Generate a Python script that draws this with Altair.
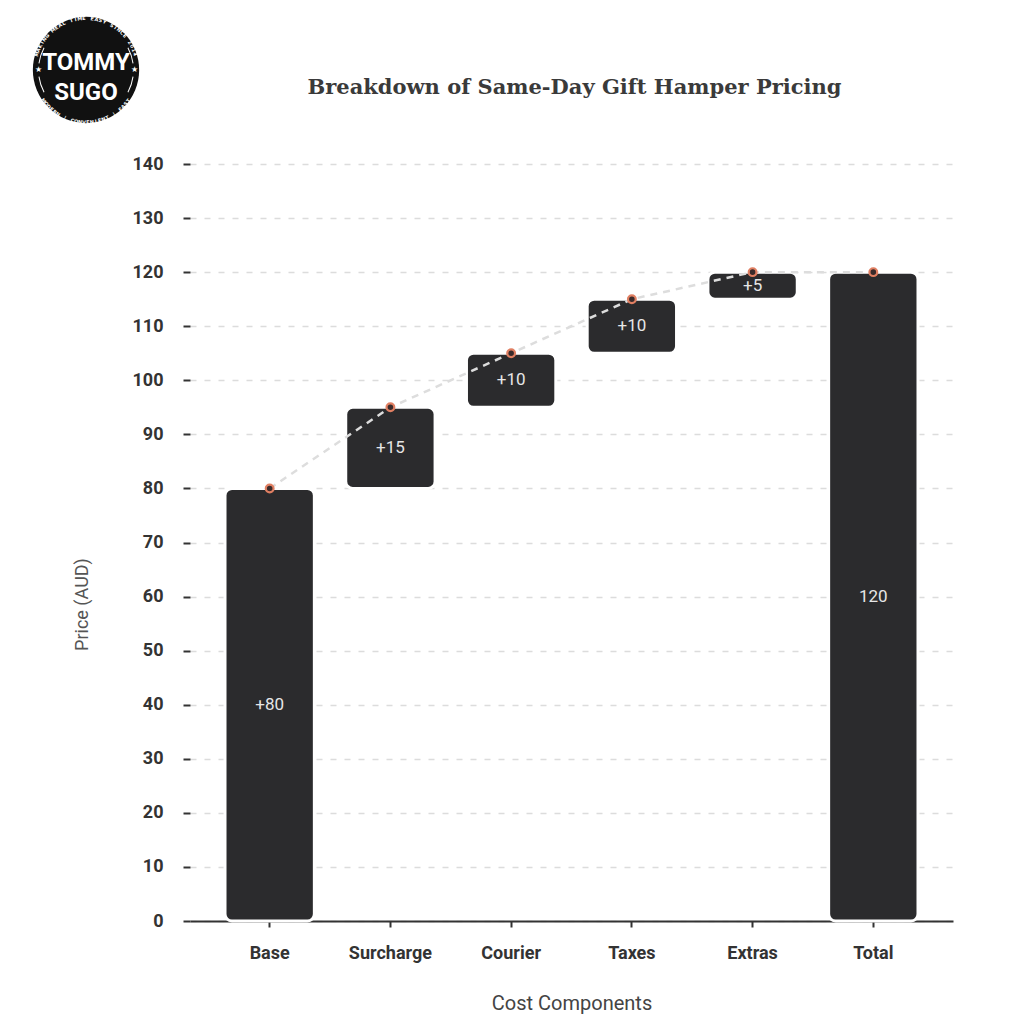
import altair as alt
import pandas as pd
import numpy as np

# ---------------- data ----------------
categories = ["Base", "Surcharge", "Courier", "Taxes", "Extras", "Total"]
amounts = [80, 15, 10, 10, 5, 120]
is_total = [False, False, False, False, False, True]
bar_labels = ["+80", "+15", "+10", "+10", "+5", "120"]
y_ticks = [0, 10, 20, 30, 40, 50, 60, 70, 80, 90, 100, 110, 120, 130, 140]

title_text = "Breakdown of Same-Day Gift Hamper Pricing"
logo_words_list = ["TOMMY", "SUGO"]
logo_top = "MAKING MEAL TIME EASY SINCE 2014"
logo_bottom = "MODERN | CONVENIENT | FAST"

starts, ends = [], []
run = 0
for a, t in zip(amounts, is_total):
    if t:
        starts.append(0)
        ends.append(a)
    else:
        starts.append(run)
        run += a
        ends.append(run)
df = pd.DataFrame({"cat": categories, "start": starts, "end": ends, "label": bar_labels})
df["mid"] = (df["start"] + df["end"]) / 2

W, H = 763, 757
BAR = "#2b2b2d"

xenc = alt.X(
    "cat:N",
    sort=categories,
    scale=alt.Scale(paddingInner=0.26, paddingOuter=0.29),
    axis=alt.Axis(
        title="Cost Components",
        labelAngle=0,
        labelFont="Roboto",
        labelFontWeight="bold",
        labelFontSize=18,
        labelColor="#333333",
        labelPadding=17,
        tickColor="#333333",
        tickSize=6,
        tickWidth=2,
        domainColor="#333333",
        domainWidth=2,
        titleFont="Roboto",
        titleFontWeight="normal",
        titleFontSize=20,
        titleColor="#444444",
        titlePadding=31,
        grid=False,
    ),
)

yscale = alt.Scale(domain=[0, 140], nice=False)
yaxis = alt.Axis(
    title="Price (AUD)",
    values=y_ticks,
    labelFont="Roboto",
    labelFontWeight="bold",
    labelFontSize=18,
    labelColor="#333333",
    labelPadding=20,
    tickColor="#333333",
    tickSize=7,
    tickWidth=2,
    domain=False,
    grid=True,
    gridColor="#dcdcdc",
    gridDash=[6, 8],
    gridWidth=1.5,
    titleFont="Roboto",
    titleFontWeight="normal",
    titleFontSize=18,
    titleColor="#555555",
    titleX=-108,
    titleY=440,
    titleBaseline="middle",
)

bars = alt.Chart(df).mark_bar(
    color=BAR, cornerRadius=7, stroke="white", strokeWidth=3
).encode(
    x=xenc,
    y=alt.Y("start:Q", scale=yscale, axis=yaxis),
    y2="end:Q",
)

line = alt.Chart(df).mark_line(
    color="#dddddd", strokeDash=[7, 6], strokeWidth=2.5
).encode(
    x=alt.X("cat:N", sort=categories),
    y=alt.Y("end:Q", scale=yscale),
)

points = alt.Chart(df).mark_point(
    filled=True, fill="#3a2b2b", stroke="#e07f62", strokeWidth=2.2, size=60, opacity=1
).encode(
    x=alt.X("cat:N", sort=categories),
    y=alt.Y("end:Q", scale=yscale),
)

labels = alt.Chart(df).mark_text(
    font="Roboto", fontSize=17, color="#e6e6e6", baseline="middle"
).encode(
    x=alt.X("cat:N", sort=categories),
    y=alt.Y("mid:Q", scale=yscale),
    text="label:N",
)

# ---------------- title (as text mark so the logo does not push it) ----------------
title_mark = alt.Chart(pd.DataFrame({"t": [title_text]})).mark_text(
    font="DejaVu Serif", fontWeight="bold", fontSize=21, color="#3a3a3a", baseline="middle"
).encode(x=alt.value(W / 2 + 3), y=alt.value(-76), text="t:N")

# ---------------- logo ----------------
LX, LY = -104, -94
logo_disc = alt.Chart(pd.DataFrame({"a": [0]})).mark_circle(
    color="#111111", opacity=1, size=11300
).encode(x=alt.value(LX), y=alt.value(LY))

logo_words = pd.DataFrame({"w": logo_words_list, "dy": [-7, 23]})
logo_text = alt.Chart(logo_words).transform_calculate(
    py=f"datum.dy + ({LY})"
).mark_text(
    font="Roboto", fontWeight="bold", fontSize=24, color="white", baseline="middle"
).encode(
    x=alt.value(LX),
    y=alt.Y("py:Q", scale=None),
    text="w:N",
)

top_n = len(logo_top)
top_theta = np.linspace(-np.radians(72), np.radians(72), top_n)
bot_n = len(logo_bottom)
bot_theta = np.linspace(np.radians(234), np.radians(126), bot_n)
ring = pd.DataFrame({
    "ch": list(logo_top) + list(logo_bottom),
    "t": np.concatenate([top_theta, bot_theta]),
    "ang": np.concatenate([np.degrees(top_theta) % 360, (np.degrees(bot_theta) - 180) % 360]),
})
logo_ring = alt.Chart(ring).mark_text(
    font="DejaVu Sans", fontWeight="bold", fontSize=5, color="white", baseline="middle", radius=52
).encode(
    x=alt.value(LX), y=alt.value(LY),
    theta=alt.Theta("t:Q", scale=None),
    angle=alt.Angle("ang:Q", scale=None),
    text="ch:N",
)

arcs = pd.DataFrame({
    "t1": np.radians([62, 98, 242, 278]),
    "t2": np.radians([82, 118, 262, 298]),
})
logo_arcs = alt.Chart(arcs).mark_arc(color="white", radius=48, radius2=47).encode(
    x=alt.value(LX), y=alt.value(LY),
    theta=alt.Theta("t1:Q", scale=None), theta2="t2:Q",
)
stars = pd.DataFrame({"s": ["★", "★"], "t": np.radians([90, 270])})
logo_stars = alt.Chart(stars).mark_text(
    fontSize=8, color="white", baseline="middle", radius=48
).encode(
    x=alt.value(LX), y=alt.value(LY),
    theta=alt.Theta("t:Q", scale=None),
    text="s:N",
)

chart = alt.layer(
    bars, line, points, labels, title_mark,
    logo_disc, logo_arcs, logo_stars, logo_ring, logo_text
).properties(
    width=W,
    height=H,
    padding={"left": 182, "top": 156, "right": 55, "bottom": 95},
    autosize=alt.AutoSizeParams(type="none"),
).configure(background="white").configure_view(stroke=None)

chart.save("out.html", embed_options={"renderer": "svg", "actions": False})
